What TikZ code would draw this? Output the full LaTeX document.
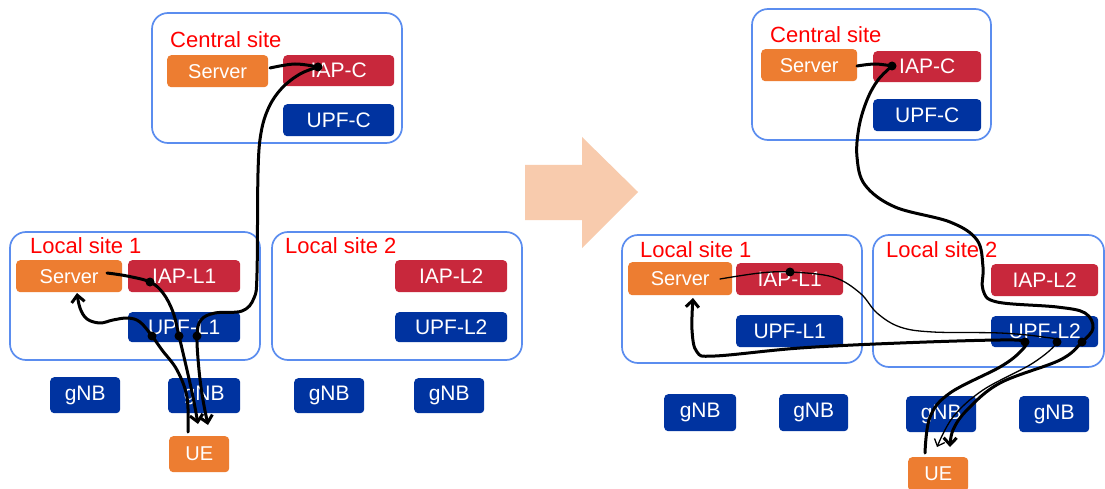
\documentclass[tikz,border=0pt]{standalone}
\usepackage{fontspec}
\setmainfont{Liberation Sans}
\usetikzlibrary{arrows.meta}
\definecolor{orgC}{HTML}{ED7D31}
\definecolor{redC}{HTML}{C8283C}
\definecolor{blueC}{HTML}{0033A0}
\definecolor{siteC}{HTML}{5B8DEF}
\definecolor{peach}{HTML}{F8CBAD}
\definecolor{lblC}{HTML}{FF0000}
\begin{document}
\begin{tikzpicture}[x=1pt,y=-1pt,
  site/.style={draw=siteC, line width=1.7pt, rounded corners=16pt},
  lbl/.style={text=lblC, anchor=base west, inner sep=0pt, font=\fontsize{22}{22}\selectfont},
  box/.style={rounded corners=4pt, text=white, inner sep=0pt, anchor=north west, font=\fontsize{21}{21}\selectfont},
  srv/.style={box, fill=orgC, font=\fontsize{20}{20}\selectfont},
  iap/.style={box, fill=redC},
  upf/.style={box, fill=blueC},
  ue/.style={box, fill=orgC, font=\fontsize{20}{20}\selectfont},
  flow/.style={line width=3pt, line cap=round, line join=round},
  thinflow/.style={line width=1.3pt, line cap=round, line join=round},
  tip/.style={-{Straight Barb[length=7pt,width=13pt]}},
  dot/.style={fill=black}
]
\useasboundingbox (0,0) rectangle (1105,489);
\fill[white] (0,0) rectangle (1105,489);

% ---------------- left ----------------
\draw[site] (152,13) rectangle (402,143);
\draw[site] (10,232) rectangle (260,360);
\draw[site] (272,232) rectangle (522,360);
\node[lbl] (lC) at (170,48) {Central site};
\node[lbl] (l1) at (30,253) {Local site 1};
\node[lbl] (l2) at (285,253) {Local site 2};

\node[srv, minimum width=101pt, minimum height=32pt] (srvC) at (167,55) {Server};
\node[iap, minimum width=111pt, minimum height=31pt] (iapC) at (283,55) {IAP-C};
\node[upf, minimum width=111pt, minimum height=32pt] (upfC) at (283,104) {UPF-C};
\node[srv, minimum width=106pt, minimum height=32pt] (srvL1) at (16,260) {Server};
\node[iap, minimum width=112pt, minimum height=32pt] (iapL1) at (128,260) {IAP-L1};
\node[upf, minimum width=112pt, minimum height=30pt] (upfL1) at (128,312) {UPF-L1};
\node[iap, minimum width=112pt, minimum height=32pt] (iapL2) at (395,260) {IAP-L2};
\node[upf, minimum width=112pt, minimum height=30pt] (upfL2) at (395,312) {UPF-L2};
\node[upf, minimum width=70pt, minimum height=36pt] (g1) at (50,377) {gNB};
\node[upf, minimum width=72pt, minimum height=35pt] (g2) at (168,378) {gNB};
\node[upf, minimum width=70pt, minimum height=35pt] (g3) at (294,378) {gNB};
\node[upf, minimum width=70pt, minimum height=35pt] (g4) at (414,378) {gNB};
\node[ue, minimum width=60pt, minimum height=36pt] (ueL) at (169,436) {UE};

% transition arrow
\fill[peach] (525,165) -- (582,165) -- (582,137) -- (638,192) -- (582,248) -- (582,220) -- (525,220) -- cycle;

% ---------------- right ----------------
\draw[site] (752,9) rectangle (991,140);
\draw[site] (622,235) rectangle (862,363);
\draw[site] (873,235) rectangle (1104,367);
\node[lbl] (rC) at (770,43) {Central site};
\node[lbl] (r1) at (640,257) {Local site 1};
\node[lbl] (r2) at (886,257) {Local site 2};

\node[srv, minimum width=96pt, minimum height=32pt] (srvC2) at (761,49) {Server};
\node[iap, minimum width=108pt, minimum height=31pt] (iapC2) at (873,51) {IAP-C};
\node[upf, minimum width=108pt, minimum height=32pt] (upfC2) at (873,99) {UPF-C};
\node[srv, minimum width=104pt, minimum height=33pt] (srvR1) at (628,262) {Server};
\node[iap, minimum width=107pt, minimum height=32pt] (iapR1) at (736,263) {IAP-L1};
\node[upf, minimum width=107pt, minimum height=32pt] (upfR1) at (736,315) {UPF-L1};
\node[iap, minimum width=107pt, minimum height=32pt] (iapR2) at (991,264) {IAP-L2};
\node[upf, minimum width=107pt, minimum height=31pt] (upfR2) at (991,316) {UPF-L2};
\node[upf, minimum width=72pt, minimum height=37pt] (h1) at (664,394) {gNB};
\node[upf, minimum width=69pt, minimum height=37pt] (h2) at (779,394) {gNB};
\node[upf, minimum width=70pt, minimum height=36pt] (h3) at (906,396) {gNB};
\node[upf, minimum width=70pt, minimum height=36pt] (h4) at (1019,396) {gNB};
\node[ue, minimum width=60pt, minimum height=34pt] (ueR) at (908,457) {UE};

% ---------------- coordinates ----------------
\coordinate (dCL) at (318,67);
\coordinate (dIL1) at (150,282);
\coordinate (dUa) at (152,336);
\coordinate (dUb) at (179,336);
\coordinate (dUc) at (197,336);
\coordinate (sCL) at (270,68);
\coordinate (sL1) at (107,273);
\coordinate (eUL) at (188,432);
\coordinate (aL1) at (198,424);
\coordinate (aL2) at (208,425);
\coordinate (aSL) at (77,293);

\coordinate (dCR) at (892,66);
\coordinate (dIR1) at (790,272);
\coordinate (dVa) at (1025,342);
\coordinate (dVb) at (1057,342);
\coordinate (dVc) at (1082,342);
\coordinate (sCR) at (857,66);
\coordinate (sR1) at (720,279);
\coordinate (eUR) at (925,453);
\coordinate (aR1) at (937,447);
\coordinate (aR2) at (950,447);
\coordinate (aSR) at (693,298);

% ---------------- left flows ----------------
\draw[flow] plot[smooth, tension=0.6] coordinates {(sCL) (295,64) (dCL)};
\draw[flow, tip] plot[smooth, tension=0.6] coordinates {(dCL) (300,74) (282,88) (269,107) (261,133) (258,173) (257,273) (254,298) (242,311) (215,313) (201,320) (dUc) (199,370) (203,400) (aL2)};
\draw[flow, tip] plot[smooth, tension=0.6] coordinates {(sL1) (127,276) (dIL1) (163,293) (173,312) (dUb) (187,370) (193,397) (aL1)};
\draw[flow, tip] plot[smooth, tension=0.6] coordinates {(eUL) (187,397) (177,370) (162,350) (dUa) (140,322) (128,318) (113,320) (100,323) (87,319) (80,308) (aSL)};
\foreach \d in {dCL,dIL1,dUa,dUb,dUc} \fill[dot] (\d) circle (4.5);

% ---------------- right flows ----------------
\draw[flow] plot[smooth, tension=0.6] coordinates {(sCR) (875,64) (dCR)};
\draw[flow, tip] plot[smooth, tension=0.6] coordinates {(dCR) (878,80) (867,100) (859,127) (857,157) (865,185) (895,207) (950,222) (977,240) (983,267) (983,290) (997,302) (1057,307) (1085,313) (1093,328) (dVc) (1060,360) (1000,383) (967,410) (953,430) (aR2)};
\draw[thinflow, -{Straight Barb[length=6pt,width=11pt]}] plot[smooth, tension=0.6] coordinates {(sR1) (760,273) (dIR1) (833,277) (860,293) (877,313) (900,327) (933,332) (1000,333) (1043,337) (dVb) (1033,363) (983,390) (953,417) (aR1)};
\draw[flow, tip] plot[smooth, tension=0.6] coordinates {(eUR) (930,417) (950,393) (1000,367) (1020,352) (dVa) (1000,340) (900,343) (800,348) (715,356) (697,352) (692,330) (aSR)};
\foreach \d in {dCR,dIR1,dVa,dVb,dVc} \fill[dot] (\d) circle (4.5);
\end{tikzpicture}
\end{document}
